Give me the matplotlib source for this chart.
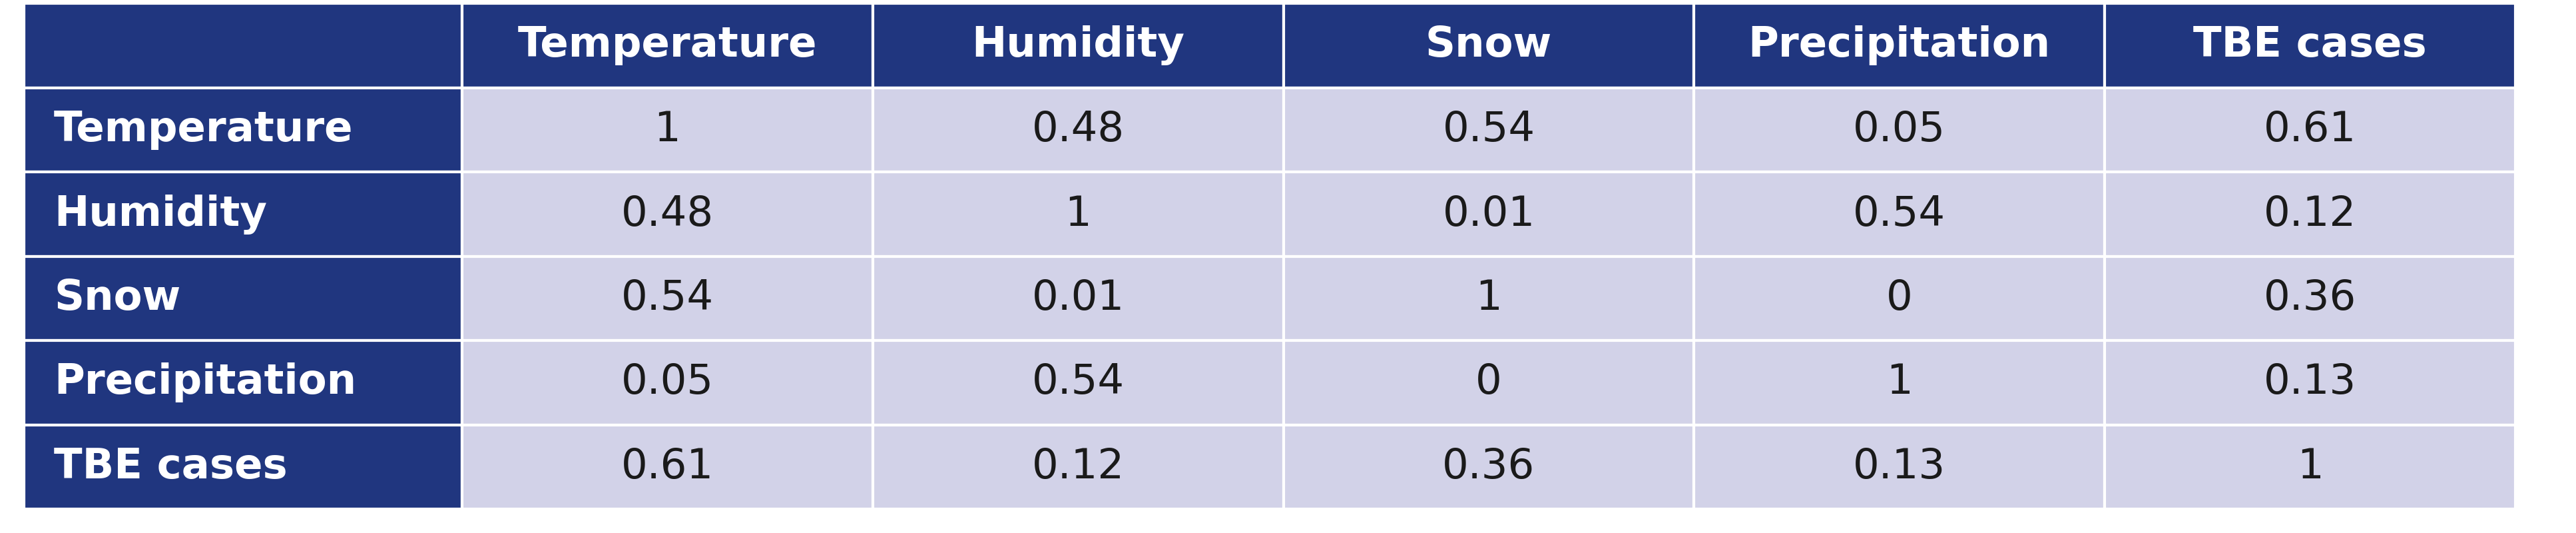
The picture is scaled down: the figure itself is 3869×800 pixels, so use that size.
import matplotlib.pyplot as plt
from matplotlib.patches import Rectangle

# Data
variables = ['Temperature', 'Humidity', 'Snow', 'Precipitation', 'TBE cases']
corr = [
    ['1', '0.48', '0.54', '0.05', '0.61'],
    ['0.48', '1', '0.01', '0.54', '0.12'],
    ['0.54', '0.01', '1', '0', '0.36'],
    ['0.05', '0.54', '0', '1', '0.13'],
    ['0.61', '0.12', '0.36', '0.13', '1'],
]

dark = '#20367f'
light = '#d2d2e8'
font = ['Liberation Sans Narrow', 'DejaVu Sans']

# Layout in pixels
left, first_w, right = 36, 658, 3778
top, head_h, row_h = 5, 127, 126.4
col_w = (right - left - first_w) / len(variables)

fig = plt.figure(figsize=(38.69, 8), dpi=100)
ax = fig.add_axes([0, 0, 1, 1])
ax.set_xlim(0, 3869)
ax.set_ylim(800, 0)
ax.axis('off')

def cell(x, y, w, h, color, text, bold, tcolor):
    ax.add_patch(Rectangle((x, y), w, h, facecolor=color, edgecolor='white', linewidth=3))
    ax.text(x + (w / 2 if x > left else 45), y + h / 2, text,
            ha='center' if x > left else 'left', va='center',
            fontsize=45, fontweight='bold' if bold else 'normal',
            color=tcolor, family=font)

cell(left, top, first_w, head_h, dark, '', True, 'white')
for j, v in enumerate(variables):
    cell(left + first_w + j * col_w, top, col_w, head_h, dark, v, True, 'white')

for i, v in enumerate(variables):
    y = top + head_h + i * row_h
    cell(left, y, first_w, row_h, dark, v, True, 'white')
    for j, val in enumerate(corr[i]):
        cell(left + first_w + j * col_w, y, col_w, row_h, light, val, False, '#1a1a1a')

fig.savefig('out.png', dpi=100, facecolor='white')
